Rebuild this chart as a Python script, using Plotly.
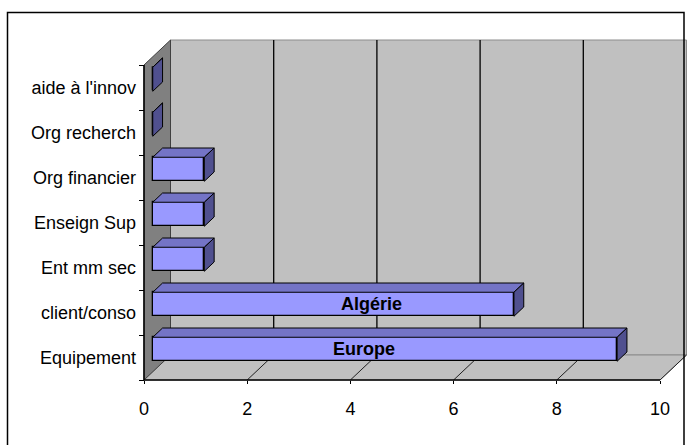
import plotly.graph_objects as go

# ---------------- data ----------------
categories = ["Equipement", "client/conso", "Ent mm sec", "Enseign Sup",
              "Org financier", "Org recherch", "aide à l'innov"]
values = [9, 7, 1, 1, 1, 0, 0]
x_tick_values = [0, 2, 4, 6, 8, 10]
bar_label_text = ["Europe", "Algérie"]
bar_label_category = [0, 1]
bar_label_x = [4.27, 4.40]

# ---------------- geometry (pixel layout of the 3D box) ----------------
W, H = 691, 445
X0PX = 144.0     # pixel of value 0 on front axis
PXU = 51.6       # pixels per value unit
Y0PX = 380.0     # pixel of front floor edge (category -0.5)
PXC = 45.0       # pixels per category
WALL_DX, WALL_DY = 26.5, 25.0   # depth of 3D box in pixels
DXU = WALL_DX / PXU
DYU = WALL_DY / PXC
T0, T1 = 0.33, 0.70             # bar depth (fraction of box depth)
BAR_W = 24.0 / PXC

xr = [-X0PX / PXU, (W - X0PX) / PXU]
yr = [-0.5 - (H - Y0PX) / PXC, -0.5 + Y0PX / PXC]
ncat = len(categories)
xmax = x_tick_values[-1]

FONT = "Liberation Sans, Arial, sans-serif"
FRONT = "#9999FF"
TOP = "#7474C6"
SIDE = "#50508F"

fig = go.Figure()

# ---------------- walls ----------------
shapes = []
def path(pts):
    return "M " + " L ".join(f"{x},{y}" for x, y in pts) + " Z"

ylo, yhi = -0.5, ncat - 0.5
# back wall
shapes.append(dict(type="path", xref="x", yref="y", layer="below",
                   path=path([(DXU, ylo + DYU), (xmax + DXU, ylo + DYU),
                              (xmax + DXU, yhi + DYU), (DXU, yhi + DYU)]),
                   fillcolor="#C0C0C0", line=dict(color="#8C8C8C", width=1)))
# floor
shapes.append(dict(type="path", xref="x", yref="y", layer="below",
                   path=path([(0, ylo), (xmax, ylo), (xmax + DXU, ylo + DYU), (DXU, ylo + DYU)]),
                   fillcolor="#C0C0C0", line=dict(color="#8C8C8C", width=1)))
# left wall
shapes.append(dict(type="path", xref="x", yref="y", layer="below",
                   path=path([(0, ylo), (0, yhi), (DXU, yhi + DYU), (DXU, ylo + DYU)]),
                   fillcolor="#808080", line=dict(color="#404040", width=1)))
# back wall gridlines and floor diagonals
for v in x_tick_values[1:-1]:
    shapes.append(dict(type="line", xref="x", yref="y", layer="below",
                       x0=v + DXU, x1=v + DXU, y0=ylo + DYU, y1=yhi + DYU,
                       line=dict(color="#000000", width=1.3)))
for v in x_tick_values[1:]:
    shapes.append(dict(type="line", xref="x", yref="y", layer="below",
                       x0=v, x1=v + DXU, y0=ylo, y1=ylo + DYU,
                       line=dict(color="#202020", width=1)))
# axis lines
shapes.append(dict(type="line", xref="x", yref="y", x0=0, x1=xmax, y0=ylo, y1=ylo,
                   line=dict(color="#000000", width=1.5), layer="below"))
shapes.append(dict(type="line", xref="x", yref="y", x0=0, x1=0, y0=ylo, y1=yhi,
                   line=dict(color="#000000", width=1.5), layer="below"))
# outer frame
shapes.append(dict(type="rect", xref="paper", yref="paper",
                   x0=7.5 / W, x1=684 / W, y0=-0.05, y1=1 - 12.5 / H,
                   line=dict(color="#000000", width=1.5), fillcolor="rgba(0,0,0,0)"))

# ---------------- 3D bars ----------------
b = T0 * DXU
ddx = (T1 - T0) * DXU
ddy = (T1 - T0) * DYU
for i, v in enumerate(values):
    yc = i + T0 * DYU
    yb, yt = yc - BAR_W / 2, yc + BAR_W / 2
    # top face
    fig.add_trace(go.Scatter(x=[b, b + v, b + v + ddx, b + ddx, b],
                             y=[yt, yt, yt + ddy, yt + ddy, yt],
                             mode="lines", fill="toself", fillcolor=TOP,
                             line=dict(color="#000000", width=1), hoverinfo="skip"))
    # side face
    fig.add_trace(go.Scatter(x=[b + v, b + v + ddx, b + v + ddx, b + v, b + v],
                             y=[yb, yb + ddy, yt + ddy, yt, yb],
                             mode="lines", fill="toself", fillcolor=SIDE,
                             line=dict(color="#000000", width=1), hoverinfo="skip"))

# front faces
fig.add_trace(go.Bar(orientation="h", x=values,
                     y=[i + T0 * DYU for i in range(ncat)],
                     base=b, width=BAR_W,
                     marker=dict(color=FRONT, line=dict(color="#000000", width=1.3)),
                     hoverinfo="skip"))

annotations = []
for txt, ci, xv in zip(bar_label_text, bar_label_category, bar_label_x):
    annotations.append(dict(x=xv, y=ci + T0 * DYU, xref="x", yref="y", text=txt,
                            showarrow=False,
                            font=dict(family=FONT, size=18, color="#000000", weight="bold")))

fig.update_layout(
    width=W, height=H,
    margin=dict(l=0, r=0, t=0, b=0),
    paper_bgcolor="#FFFFFF", plot_bgcolor="#FFFFFF",
    showlegend=False,
    shapes=shapes,
    annotations=annotations,
    bargap=0,
    xaxis=dict(range=xr, domain=[0, 1], anchor="free", position=(H - Y0PX) / H,
               tickvals=x_tick_values, ticktext=[str(v) for v in x_tick_values],
               ticks="outside", ticklen=3, tickcolor="#000000",
               showline=False, showgrid=False, zeroline=False, automargin=False,
               ticklabelstandoff=9,
               tickfont=dict(family=FONT, size=18, color="#000000")),
    yaxis=dict(range=yr, domain=[0, 1], anchor="free", position=X0PX / W,
               tickvals=list(range(ncat)), ticktext=categories,
               ticks="", showline=False, showgrid=False, zeroline=False,
               automargin=False, ticklabelstandoff=8,
               minor=dict(tickvals=[k - 0.5 for k in range(ncat + 1)], ticks="outside",
                          ticklen=5, tickcolor="#000000", showgrid=False),
               tickfont=dict(family=FONT, size=18, color="#000000")),
)

fig.write_html("out.html")
